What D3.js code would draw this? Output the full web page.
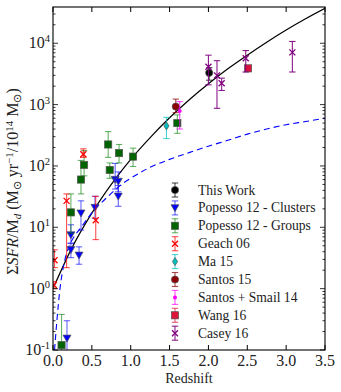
<!DOCTYPE html>
<html><head><meta charset="utf-8">
<script src="https://cdn.jsdelivr.net/npm/d3@7"></script>
<style>body{margin:0;background:#fff}svg{display:block}</style>
</head><body><svg id="c" width="341" height="392" font-family="'Liberation Serif', 'Times New Roman', serif"></svg>
<script>
// ---- data ----
const modelZ = [0,0.25,0.5,0.75,1,1.25,1.5,1.75,2,2.25,2.5,2.75,3,3.25,3.5];
const modelV = [1,4.8,17,50,128,290,610,1190,2190,3840,6400,10400,16400,25000,37000];
const dashZ = [0.02,0.05,0.09,0.14,0.19,0.27,0.35,0.48,0.71,0.9,1.0,1.25,1.5,1.75,2.0,2.25,2.5,2.75,3.0,3.25,3.5];
const dashV = [0.1,0.3,1.0,2.5,4.3,7,9.5,16,32,52,63,95,128,165,210,262,330,400,470,530,600];

const thisWorkZ = [2.01], thisWorkV = [3300], thisWorkLo = [2500], thisWorkHi = [4000];
const clustersZ = [0.18,0.23,0.23,0.335,0.36,0.54,0.80,0.84,0.84];
const clustersV = [0.155,4.3,7.5,3.5,17,21,60,56,32];
const clustersLo = [0.05,3.2,5.5,2.5,9,14,42,38,22];
const clustersHi = [0.30,5.5,11,4.8,27,32,110,80,48];
const groupsZ = [0.11,0.23,0.36,0.40,0.71,0.73,0.85,1.03,1.60];
const groupsV = [0.12,17.5,60,104,224,86,162,142,500];
const groupsLo = [0.03,8,35,69,138,63,112,98,340];
const groupsHi = [0.38,35,123,178,363,112,224,195,680];
const geachZ = [0.01,0.02,0.175,0.39,0.55];
const geachV = [1.15,2.9,27,155,13];
const geachLo = [1.0,2.2,2.2,138,6.3];
const geachHi = [1.3,4.3,35,190,32];
const maZ = [1.46], maV = [450], maLo = [280], maHi = [620];
const santosZ = [1.58], santosV = [930], santosLo = [740], santosHi = [1230];
const ssZ = [1.63], ssV = [790], ssLo = [400], ssHi = [1120];
const wangZ = [2.51], wangV = [3900], wangLo = [3900], wangHi = [3900];
const caseyZ = [2.0,2.11,2.17,2.48,3.08];
const caseyV = [4150,3000,2230,5700,7100];
const caseyLo = [2100,870,1700,3400,3400];
const caseyHi = [6400,5200,2700,7600,10700];
const xTicks = [0,0.5,1,1.5,2,2.5,3,3.5];
const yTicks = [-1,0,1,2,3,4];
const legendLabels = ["This Work","Popesso 12 - Clusters","Popesso 12 - Groups","Geach 06","Ma 15","Santos 15","Santos + Smail 14","Wang 16","Casey 16"];

// ---- layout ----
const L = 53, R = 325, T = 7, B = 350;
const TFS = 16, TSS = 10.5, LFS = 13.6, AFS = 14, YFS = 16, YSS = 11;
const svg = d3.select("#c");
const x = d3.scaleLinear().domain([0,3.5]).range([L,R]);
const y = d3.scaleLog().domain([0.1,3.9e4]).range([B,T]);

svg.append("defs").append("clipPath").attr("id","clip")
  .append("rect").attr("x",L).attr("y",T).attr("width",R-L).attr("height",B-T);
const plot = svg.append("g").attr("clip-path","url(#clip)");

// curves
plot.append("path").datum(modelZ.map((z,i)=>[z,modelV[i]]))
  .attr("fill","none").attr("stroke","#000").attr("stroke-width",1.2)
  .attr("d", d3.line().x(d=>x(d[0])).y(d=>y(d[1])).curve(d3.curveMonotoneX));
plot.append("path").datum(dashZ.map((z,i)=>[z,dashV[i]]))
  .attr("fill","none").attr("stroke","#0000ff").attr("stroke-width",1.1)
  .attr("stroke-dasharray","6,4")
  .attr("d", d3.line().x(d=>x(d[0])).y(d=>y(d[1])).curve(d3.curveMonotoneX));

// marker drawers
function drawMarker(g, type, cx, cy, fill){
  const edge = "#555";
  if(type==="circle") g.append("circle").attr("cx",cx).attr("cy",cy).attr("r",3.6).attr("fill",fill).attr("stroke",edge).attr("stroke-width",0.7);
  else if(type==="square") g.append("rect").attr("x",cx-3.6).attr("y",cy-3.6).attr("width",7.2).attr("height",7.2).attr("fill",fill).attr("stroke",edge).attr("stroke-width",0.7);
  else if(type==="tri") g.append("path").attr("d",`M${cx-4},${cy-3.2}L${cx+4},${cy-3.2}L${cx},${cy+3.8}Z`).attr("fill",fill).attr("stroke",edge).attr("stroke-width",0.7);
  else if(type==="diamond") g.append("path").attr("d",`M${cx},${cy-4}L${cx+2.6},${cy}L${cx},${cy+4}L${cx-2.6},${cy}Z`).attr("fill",fill).attr("stroke",edge).attr("stroke-width",0.7);
  else if(type==="x") g.append("path").attr("d",`M${cx-3},${cy-3}L${cx+3},${cy+3}M${cx-3},${cy+3}L${cx+3},${cy-3}`).attr("stroke",fill).attr("stroke-width",1.3);
  else if(type==="dot") g.append("circle").attr("cx",cx).attr("cy",cy).attr("r",2).attr("fill",fill);
}
function errBar(g, cx, y1, y2, color, op){
  const gg = g.append("g").attr("stroke",color).attr("stroke-opacity",op).attr("stroke-width",1.1);
  gg.append("line").attr("x1",cx).attr("x2",cx).attr("y1",y1).attr("y2",y2);
  gg.append("line").attr("x1",cx-3.2).attr("x2",cx+3.2).attr("y1",y1).attr("y2",y1);
  gg.append("line").attr("x1",cx-3.2).attr("x2",cx+3.2).attr("y1",y2).attr("y2",y2);
}
const series = [
  {z:thisWorkZ,v:thisWorkV,lo:thisWorkLo,hi:thisWorkHi,type:"circle",fill:"#000",bar:"#000",op:0.7},
  {z:clustersZ,v:clustersV,lo:clustersLo,hi:clustersHi,type:"tri",fill:"#0000ff",bar:"#0000ff",op:0.6},
  {z:groupsZ,v:groupsV,lo:groupsLo,hi:groupsHi,type:"square",fill:"#006400",bar:"#008000",op:0.6},
  {z:geachZ,v:geachV,lo:geachLo,hi:geachHi,type:"x",fill:"#ff0000",bar:"#ff0000",op:0.7},
  {z:maZ,v:maV,lo:maLo,hi:maHi,type:"diamond",fill:"#00bfbf",bar:"#00bfbf",op:0.7},
  {z:santosZ,v:santosV,lo:santosLo,hi:santosHi,type:"circle",fill:"#8b0000",bar:"#8b0000",op:0.7},
  {z:ssZ,v:ssV,lo:ssLo,hi:ssHi,type:"dot",fill:"#ff00ff",bar:"#ff00ff",op:0.7},
  {z:wangZ,v:wangV,lo:wangLo,hi:wangHi,type:"square",fill:"#dc143c",bar:"#dc143c",op:0.7},
  {z:caseyZ,v:caseyV,lo:caseyLo,hi:caseyHi,type:"x",fill:"#800080",bar:"#800080",op:0.9}
];
series.forEach(s=>{
  s.z.forEach((z,i)=>{
    if(s.lo[i]!==s.hi[i]) errBar(plot, x(z), y(s.hi[i]), y(s.lo[i]), s.bar, s.op);
  });
  s.z.forEach((z,i)=>drawMarker(plot, s.type, x(z), y(s.v[i]), s.fill));
});

// axes frame
const ax = svg.append("g");
const majorLen = 5, minorLen = 2.5;
xTicks.forEach(t=>{
  const px = x(t);
  ax.append("line").attr("x1",px).attr("x2",px).attr("y1",B).attr("y2",B-majorLen).attr("stroke","#000");
  ax.append("line").attr("x1",px).attr("x2",px).attr("y1",T).attr("y2",T+majorLen).attr("stroke","#000");
  ax.append("text").attr("x",px).attr("y",366).attr("text-anchor","middle").attr("font-size",TFS).attr("fill","#222").text(d3.format(".1f")(t));
});
for(let e=-1;e<=4;e++){
  for(let m=1;m<10;m++){
    const v = m*Math.pow(10,e);
    if(v>3.9e4) continue;
    const py = y(v), len = m===1?majorLen:minorLen;
    ax.append("line").attr("x1",L).attr("x2",L+len).attr("y1",py).attr("y2",py).attr("stroke","#000").attr("stroke-width",0.8);
    ax.append("line").attr("x1",R).attr("x2",R-len).attr("y1",py).attr("y2",py).attr("stroke","#000").attr("stroke-width",0.8);
  }
}
yTicks.forEach(e=>{
  const t = ax.append("text").attr("x",50).attr("y",y(Math.pow(10,e))+5).attr("text-anchor","end").attr("font-size",TFS).attr("fill","#222");
  t.append("tspan").text("10");
  t.append("tspan").attr("dy",-6).attr("font-size",TSS).text(String(e));
});
ax.append("rect").attr("x",L).attr("y",T).attr("width",R-L).attr("height",B-T).attr("fill","none").attr("stroke","#000").attr("stroke-width",1.1);

svg.append("text").attr("x",(L+R)/2).attr("y",383).attr("text-anchor","middle").attr("font-size",AFS).attr("fill","#222").text("Redshift");

// y label
const yl = svg.append("text").attr("transform",`translate(18,${(T+B)/2+3}) rotate(-90)`).attr("text-anchor","middle").attr("font-size",YFS).attr("fill","#222");
yl.append("tspan").text("Σ");
yl.append("tspan").attr("font-style","italic").text("SFR");
yl.append("tspan").text("/M");
yl.append("tspan").attr("dy",3).attr("font-size",YSS).attr("font-style","italic").text("d");
yl.append("tspan").attr("dy",-3).text(" (M");
yl.append("tspan").attr("dy",3).attr("font-size",YSS).text("⊙");
yl.append("tspan").attr("dy",-3).text(" yr");
yl.append("tspan").attr("dy",-5.5).attr("font-size",YSS).text("−1");
yl.append("tspan").attr("dy",5.5).text("/10");
yl.append("tspan").attr("dy",-5.5).attr("font-size",YSS).text("14");
yl.append("tspan").attr("dy",5.5).text(" M");
yl.append("tspan").attr("dy",3).attr("font-size",YSS).text("⊙");
yl.append("tspan").attr("dy",-3).text(")");

// legend
const lg = svg.append("g");
series.forEach((s,i)=>{
  const cy = 190 + i*17.9;
  errBar(lg, 175, cy-7, cy+7, s.bar, s.op);
  drawMarker(lg, s.type, 175, cy, s.fill);
  lg.append("text").attr("x",198).attr("y",cy+4.5).attr("font-size",LFS).attr("fill","#222").text(legendLabels[i]);
});
</script></body></html>
